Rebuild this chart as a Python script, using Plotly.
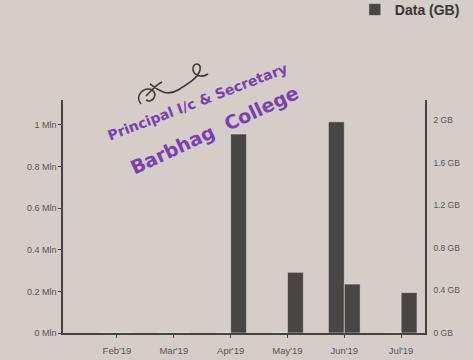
import plotly.graph_objects as go

months = ["Feb'19", "Mar'19", "Apr'19", "May'19", "Jun'19", "Jul'19"]
voice_min = [0, 0, 0, 0, 1.015, 0]
data_gb = [0, 0, 1.87, 0.57, 0.46, 0.38]
left_ticks = [0, 0.2, 0.4, 0.6, 0.8, 1.0]
left_labels = ["0 Mln", "0.2 Mln", "0.4 Mln", "0.6 Mln", "0.8 Mln", "1 Mln"]
right_ticks = [0, 0.4, 0.8, 1.2, 1.6, 2.0]
right_labels = ["0 GB", "0.4 GB", "0.8 GB", "1.2 GB", "1.6 GB", "2 GB"]

BG = "#d5cdc8"
BAR = "#4a4545"
AX = "#454242"
TXT = "#5a5452"

L, R, T, B = 63, 48, 100, 27
W, H = 473, 360
PW, PH = W - L - R, H - T - B

x = list(range(len(months)))

fig = go.Figure()
fig.add_trace(go.Bar(x=x, y=voice_min, name="Voice (Min)", marker_color=BAR,
                     width=0.28, offset=-0.28, yaxis="y", showlegend=False))
fig.add_trace(go.Bar(x=x, y=data_gb, name="<b>Data (GB)</b>", marker_color=BAR,
                     width=0.28, offset=0.0, yaxis="y2"))

fig.update_layout(
    width=W, height=H,
    margin=dict(l=L, r=R, t=T, b=B, autoexpand=False),
    paper_bgcolor=BG, plot_bgcolor=BG,
    font=dict(family="Liberation Sans, Arial, sans-serif", color=TXT),
    xaxis=dict(tickmode="array", tickvals=x, ticktext=months, range=[-0.95, 5.42],
               showgrid=False, zeroline=False, showline=True, linecolor=AX, linewidth=1.5,
               ticks="outside", ticklen=3, tickcolor=AX, ticklabelstandoff=5,
               tickfont=dict(size=9.5, color=TXT)),
    yaxis=dict(range=[0, 1.12], tickmode="array", tickvals=left_ticks, ticktext=left_labels,
               showgrid=False, zeroline=False, showline=True, linecolor=AX, linewidth=1.5,
               ticks="outside", ticklen=3, tickcolor=AX, tickfont=dict(size=9, color=TXT)),
    yaxis2=dict(range=[0, 2.19], overlaying="y", side="right", tickmode="array",
                tickvals=right_ticks, ticktext=right_labels, showgrid=False, zeroline=False,
                showline=True, linecolor=AX, linewidth=1.5, ticks="",
                ticklabelstandoff=5, tickfont=dict(size=8.5, color=TXT)),
    legend=dict(orientation="h", x=1.11, xanchor="right",
                y=1.455, yanchor="top", bgcolor="rgba(0,0,0,0)",
                font=dict(size=14, color="#3a3636", family="Liberation Sans, Arial, sans-serif")),
    showlegend=True,
)

stamp = "#7b3fb3"
def px(xp, yp):
    return (xp - L) / PW, (T + PH - yp) / PH

sx, sy = px(197, 102)
fig.add_annotation(text="<b>Principal I/c & Secretary</b>", x=sx, y=sy, xref="paper", yref="paper",
                   xanchor="center", yanchor="middle",
                   showarrow=False, textangle=-21, font=dict(size=14, color=stamp, family="DejaVu Sans"))
sx, sy = px(214, 130)
fig.add_annotation(text="<b>Barbhag  College</b>", x=sx, y=sy, xref="paper", yref="paper",
                   xanchor="center", yanchor="middle",
                   showarrow=False, textangle=-25, font=dict(size=19, color=stamp, family="DejaVu Sans"))

# signature squiggle (decoration)
pts = [("M", 141, 104), ("C", 134, 96, 144, 86, 152, 90), ("C", 159, 94, 152, 104, 146, 100),
       ("M", 146, 96), ("C", 152, 90, 157, 84, 162, 82),
       ("M", 150, 84), ("C", 160, 92, 168, 96, 178, 90),
       ("C", 188, 84, 198, 78, 200, 70), ("C", 202, 62, 192, 62, 193, 70),
       ("C", 194, 76, 202, 78, 208, 74)]
path = ""
for p in pts:
    cmd, coords = p[0], p[1:]
    parts = []
    for i in range(0, len(coords), 2):
        a, b = px(coords[i], coords[i + 1])
        parts.append(f"{a:.4f},{b:.4f}")
    path += cmd + " " + " ".join(parts) + " "
fig.add_shape(type="path", path=path.strip(), xref="paper", yref="paper",
              line=dict(color="#3d3838", width=1.6))

fig.write_html("out.html")
